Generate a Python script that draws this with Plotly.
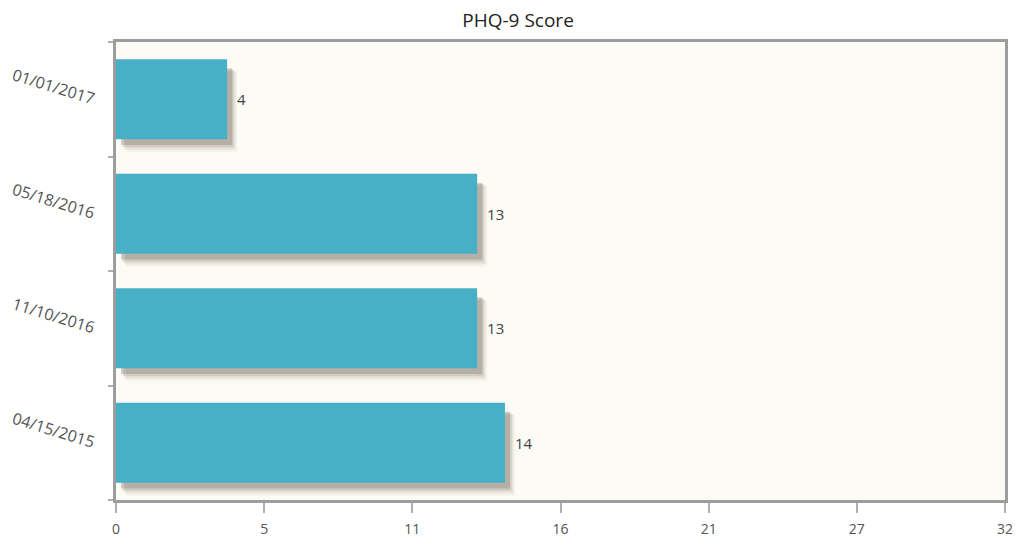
import plotly.graph_objects as go

categories = ["04/15/2015", "11/10/2016", "05/18/2016", "01/01/2017"]
scores = [14, 13, 13, 4]
x_tick_vals = [0, 32/6, 64/6, 16, 128/6, 160/6, 32]
x_tick_text = ["0", "5", "11", "16", "21", "27", "32"]

bar_color = "#47afc6"
font_family = "Open Sans, Noto Sans, sans-serif"

fig = go.Figure()
# soft drop shadow, built from a few translucent layers
shadow_layers = [
    (0.36, -0.46, 0.70, "rgba(150,135,120,0.08)"),
    (0.30, -0.44, 0.69, "rgba(140,125,110,0.12)"),
    (0.24, -0.42, 0.68, "rgba(125,113,100,0.20)"),
    (0.18, -0.40, 0.67, "rgba(110,100,90,0.28)"),
]
for base, off, w, col in shadow_layers:
    fig.add_trace(go.Bar(y=categories, x=scores, base=base, orientation="h",
                         width=w, offset=off, marker=dict(color=col, line=dict(width=0)),
                         hoverinfo="skip", showlegend=False))
fig.add_trace(go.Bar(y=categories, x=scores, orientation="h",
                     width=0.7, offset=-0.35, marker=dict(color=bar_color, line=dict(width=0)),
                     showlegend=False))
# transparent carrier for the value labels, shifted right to clear the shadow
fig.add_trace(go.Bar(y=categories, x=scores, base=0.25, orientation="h",
                     width=0.7, offset=-0.35,
                     marker=dict(color="rgba(0,0,0,0)", line=dict(width=0)),
                     text=[str(v) for v in scores], textposition="outside",
                     textfont=dict(size=15, color="#444444", family=font_family),
                     cliponaxis=False, hoverinfo="skip", showlegend=False))

fig.update_layout(
    width=1012, height=533,
    margin=dict(l=108, r=15, t=34, b=41),
    paper_bgcolor="white", plot_bgcolor="#fdfbf5",
    barmode="overlay",
    font=dict(family=font_family, color="#555555"),
    title=dict(text="PHQ-9 Score", x=0.504, xanchor="center", y=0.977, yanchor="middle",
               font=dict(size=19, color="#222222", family=font_family)),
)
fig.update_xaxes(range=[0, 32], tickvals=x_tick_vals, ticktext=x_tick_text,
                 showgrid=False, zeroline=False, showline=True, linecolor="#9d9d9d",
                 linewidth=3, mirror=True, ticks="outside", ticklen=10, tickcolor="#b0b0b0",
                 tickwidth=2, tickfont=dict(size=14, color="#555555"), ticklabelstandoff=4,
                 automargin=False)
fig.update_yaxes(categoryorder="array", categoryarray=categories, range=[-0.5, 3.5],
                 showgrid=False, zeroline=False, showline=True, linecolor="#9d9d9d",
                 linewidth=3, mirror=True, ticks="outside", ticklen=5, tickcolor="#b0b0b0",
                 tickwidth=2, tickson="boundaries", tickangle=17,
                 tickfont=dict(size=16, color="#555555"), ticklabelstandoff=15,
                 automargin=False)

fig.write_html("out.html")
